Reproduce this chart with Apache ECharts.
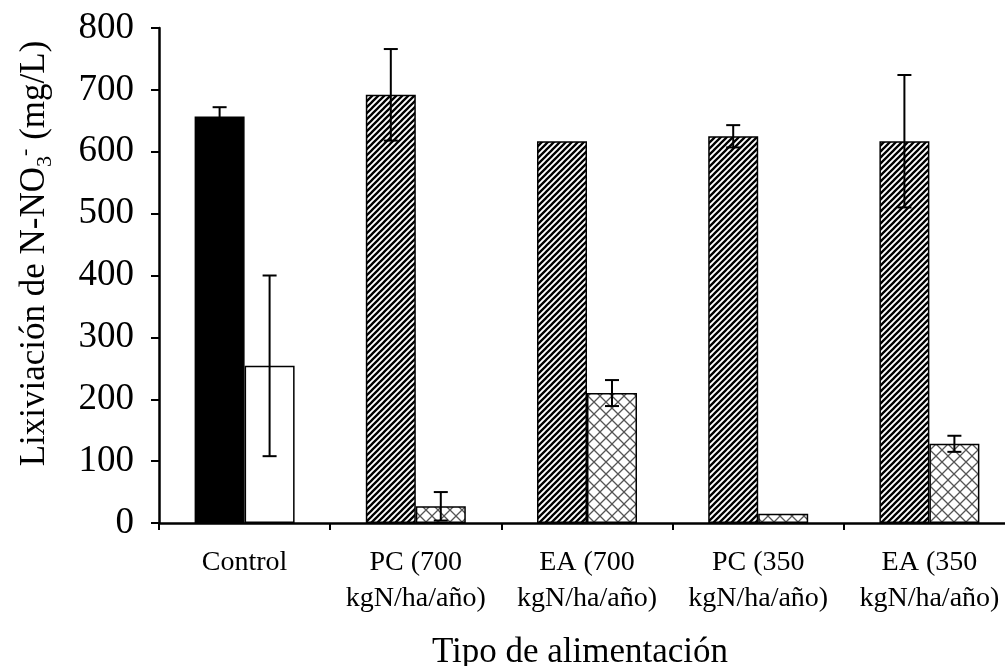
<!DOCTYPE html>
<html>
<head>
<meta charset="utf-8">
<script src="https://cdn.jsdelivr.net/npm/echarts@6/dist/echarts.min.js"></script>
<style>
html,body{margin:0;padding:0;background:#fff;}
#chart{width:1005px;height:666px;}
</style>
</head>
<body>
<div id="chart"></div>
<script>
// ---- data ----
const categories = ['Control', 'PC (700\nkgN/ha/año)', 'EA (700\nkgN/ha/año)', 'PC (350\nkgN/ha/año)', 'EA (350\nkgN/ha/año)'];
const series1Values = [657, 692, 617, 625, 617];
const series1Errors = [15, 74, 0, 18, 107];
const series2Values = [254, 27, 210, 15, 128];
const series2Errors = [146, 23, 21, 0, 13];
const yTicks = [0, 100, 200, 300, 400, 500, 600, 700, 800];

// ---- patterns ----
function hatchPattern() {
  const s = 6;
  const c = document.createElement('canvas');
  c.width = s; c.height = s;
  const g = c.getContext('2d');
  g.fillStyle = '#fff'; g.fillRect(0, 0, s, s);
  g.strokeStyle = '#000'; g.lineWidth = 2.3;
  g.beginPath();
  g.moveTo(-1, s + 1); g.lineTo(s + 1, -1);
  g.moveTo(-1, 1); g.lineTo(1, -1);
  g.moveTo(s - 1, s + 1); g.lineTo(s + 1, s - 1);
  g.stroke();
  return c;
}
function crossPattern() {
  const s = 12;
  const c = document.createElement('canvas');
  c.width = s; c.height = s;
  const g = c.getContext('2d');
  g.fillStyle = '#fff'; g.fillRect(0, 0, s, s);
  g.strokeStyle = '#555'; g.lineWidth = 1.3;
  g.beginPath();
  g.moveTo(0, 0); g.lineTo(s, s);
  g.moveTo(s, 0); g.lineTo(0, s);
  g.stroke();
  return c;
}
const hatch = { image: hatchPattern(), repeat: 'repeat' };
const cross = { image: crossPattern(), repeat: 'repeat' };

const barFrac = 0.292;
const serif = '"Liberation Serif", "Times New Roman", serif';

const data1 = series1Values.map((v, i) => ({
  value: v,
  itemStyle: { color: i === 0 ? '#000' : hatch }
}));
const data2 = series2Values.map((v, i) => ({
  value: v,
  itemStyle: { color: i === 0 ? '#fff' : cross }
}));

function errRender(values, errors, side) {
  return function (params, api) {
    const i = params.dataIndex;
    const e = errors[i];
    if (!e) return null;
    const v = values[i];
    const band = api.size([1, 0])[0];
    const center = api.coord([i, v]);
    const x = center[0] + side * band * barFrac / 2;
    const top = api.coord([i, v + e])[1];
    const bot = api.coord([i, v - e])[1];
    const cap = 7;
    const st = { stroke: '#000', lineWidth: 2 };
    return {
      type: 'group',
      children: [
        { type: 'line', shape: { x1: x, y1: top, x2: x, y2: bot }, style: st },
        { type: 'line', shape: { x1: x - cap, y1: top, x2: x + cap, y2: top }, style: st },
        { type: 'line', shape: { x1: x - cap, y1: bot, x2: x + cap, y2: bot }, style: st }
      ]
    };
  };
}

const chart = echarts.init(document.getElementById('chart'), null, { renderer: 'canvas' });
chart.setOption({
  animation: false,
  backgroundColor: '#fff',
  grid: { left: 159, width: 856, top: 28, height: 495, containLabel: false, outerBoundsMode: 'none' },
  xAxis: {
    type: 'category',
    data: categories,
    name: 'Tipo de alimentación',
    nameLocation: 'middle',
    nameGap: 112,
    nameTextStyle: { fontFamily: serif, fontSize: 35, color: '#000', padding: [0, 14, 0, 0] },
    axisLine: { show: true, lineStyle: { color: '#000', width: 2.5 } },
    axisTick: { show: true, alignWithLabel: false, length: 7, lineStyle: { color: '#000', width: 2 } },
    axisLabel: { fontFamily: serif, fontSize: 28, color: '#000', margin: 22, lineHeight: 36, interval: 0 },
    splitLine: { show: false }
  },
  yAxis: {
    type: 'value',
    min: 0, max: 800, interval: 100,
    name: '{n|Lixiviación de N-NO}{sub|3}{sup|-}{n| (mg/L)}',
    nameLocation: 'middle',
    nameGap: 103,
    nameRotate: 90,
    nameTextStyle: {
      fontFamily: serif, fontSize: 35, color: '#000', padding: [0, 0, 0, 44],
      rich: {
        n: { fontFamily: serif, fontSize: 35, color: '#000', lineHeight: 42 },
        sub: { fontFamily: serif, fontSize: 22, color: '#000', verticalAlign: 'bottom', lineHeight: 42 },
        sup: { fontFamily: serif, fontSize: 22, color: '#000', verticalAlign: 'top', lineHeight: 42 }
      }
    },
    axisLine: { show: true, lineStyle: { color: '#000', width: 2.5 } },
    axisTick: { show: true, inside: false, length: 8, lineStyle: { color: '#000', width: 2 } },
    axisLabel: { fontFamily: serif, fontSize: 37, color: '#000', margin: 25,
      formatter: function (v) { return yTicks.indexOf(v) >= 0 ? String(v) : ''; } },
    splitLine: { show: false }
  },
  series: [
    {
      type: 'bar', data: data1, barWidth: (barFrac * 100) + '%', barGap: '0%',
      itemStyle: { borderColor: '#000', borderWidth: 1.5 }
    },
    {
      type: 'bar', data: data2, barWidth: (barFrac * 100) + '%', barGap: '0%',
      itemStyle: { borderColor: '#000', borderWidth: 1.5 }
    },
    {
      type: 'custom', renderItem: errRender(series1Values, series1Errors, -1),
      data: series1Values, z: 10, silent: true
    },
    {
      type: 'custom', renderItem: errRender(series2Values, series2Errors, 1),
      data: series2Values, z: 10, silent: true
    }
  ]
});
</script>
</body>
</html>
